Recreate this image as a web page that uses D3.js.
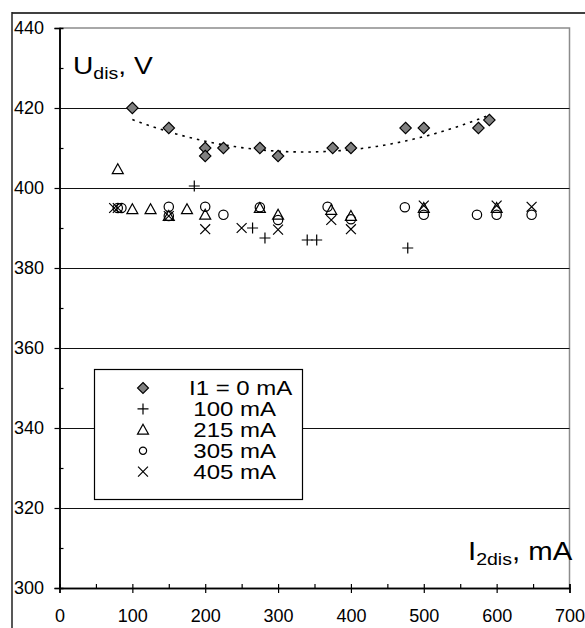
<!DOCTYPE html>
<html>
<head>
<meta charset="utf-8">
<script src="https://cdn.jsdelivr.net/npm/d3@7"></script>
<style>
  html, body { margin: 0; padding: 0; background: #fff; }
  svg { display: block; font-family: Arial, "Liberation Sans", sans-serif; }
</style>
</head>
<body>
<div id="chart"></div>
<script>
// Axis ticks
const xTicks = [0, 100, 200, 300, 400, 500, 600, 700];
const xMinorTicks = [50, 150, 250, 350, 450, 550, 650];
const yTicks = [300, 320, 340, 360, 380, 400, 420, 440];
const yMinorTicks = [310, 330, 350, 370, 390, 410, 430];
const gridValues = [320, 340, 360, 380, 400, 420];

// Series: [I2dis mA, Udis V]
const seriesI0 = [[100, 420], [150, 415], [200, 410], [200, 408], [225, 410], [275, 410], [300, 408],
  [375, 410], [400, 410], [475, 415], [500, 415], [575, 415], [590, 417]];
const series100 = [[185, 400.5], [265, 390], [282, 387.5], [340, 387], [353, 387], [478, 385]];
const series215 = [[80, 404.7], [100, 394.7], [125, 394.7], [150, 393], [175, 394.7], [200, 393.3],
  [275, 395], [300, 393.3], [373, 394.5], [400, 393], [500, 395], [600, 395]];
const series305 = [[80, 395], [85, 395], [150, 395.3], [150, 393], [200, 395.3], [225, 393.3],
  [275, 395.2], [300, 392], [368, 395.3], [400, 392.2], [474, 395.2], [500, 393.3], [573, 393.3],
  [600, 393.3], [648, 393.3]];
const series405 = [[75, 395], [80, 395], [150, 393], [200, 389.7], [250, 390], [300, 389.6],
  [373, 392], [400, 389.7], [500, 395.6], [600, 395.6], [648, 395.3]];

const legendLabels = ['I1 = 0 mA', '100 mA', '215 mA', '305 mA', '405 mA'];
const legendSymbols = ['diamond', 'plus', 'triangle', 'circle', 'cross'];

const W = 585, H = 628;
const plot = { left: 59.5, right: 569.5, top: 28, bottom: 588 };
const FONT = 'Arial, "Liberation Sans", sans-serif';

const svg = d3.select('#chart').append('svg')
  .attr('width', W).attr('height', H);

const x = d3.scaleLinear().domain([0, 700]).range([plot.left, plot.right]);
const y = d3.scaleLinear().domain([300, 440]).range([plot.bottom, plot.top]);

// text that is a little wider than the font, as in the source picture
function wideText(parent, px, py, sx) {
  return parent.append('g').attr('transform', `translate(${px},${py}) scale(${sx},1)`)
    .append('text').attr('fill', '#000');
}

// outer frame
svg.append('line').attr('x1', 12).attr('x2', W).attr('y1', 13).attr('y2', 13)
  .attr('stroke', '#404040').attr('stroke-width', 2);
svg.append('line').attr('x1', 12).attr('x2', 12).attr('y1', 12).attr('y2', H)
  .attr('stroke', '#202020').attr('stroke-width', 1.5);

// plot border (top/right, gray)
svg.append('path')
  .attr('d', `M${plot.left},${plot.top}H${plot.right}V${plot.bottom}`)
  .attr('fill', 'none').attr('stroke', '#8c8c8c').attr('stroke-width', 1.5);

// gridlines
svg.append('g').selectAll('line').data(gridValues).join('line')
  .attr('x1', plot.left).attr('x2', plot.right)
  .attr('y1', d => Math.round(y(d)) + 0.5).attr('y2', d => Math.round(y(d)) + 0.5)
  .attr('stroke', '#111').attr('stroke-width', 1);

// axes
const yAxis = svg.append('g').attr('transform', `translate(${plot.left},0)`)
  .call(d3.axisLeft(y).tickValues(yTicks).tickSize(5).tickPadding(10.5).tickFormat(d3.format('d')));
const yMinor = svg.append('g').attr('transform', `translate(${plot.left},0)`)
  .call(d3.axisRight(y).tickValues(yMinorTicks).tickSize(4).tickFormat(''));
const xAxis = svg.append('g').attr('transform', `translate(0,${plot.bottom})`)
  .call(d3.axisBottom(x).tickValues(xTicks).tickSize(5).tickPadding(16).tickFormat(d3.format('d')));
const xUp = svg.append('g').attr('transform', `translate(0,${plot.bottom})`)
  .call(d3.axisTop(x).tickValues(xTicks.concat(xMinorTicks)).tickSize(4).tickFormat(''));

[yAxis, yMinor, xAxis, xUp].forEach(g => {
  g.selectAll('path.domain').attr('stroke', '#000').attr('stroke-width', 1.5);
  g.selectAll('line').attr('stroke', '#000').attr('stroke-width', 1.2);
  g.selectAll('text').attr('fill', '#000').attr('font-size', '18px').attr('font-family', FONT);
});

// axis titles
const yTitle = wideText(svg, 73, 74, 1.15).attr('font-size', '24.5px');
yTitle.append('tspan').text('U');
yTitle.append('tspan').attr('font-size', '17px').attr('dy', 5).text('dis');
yTitle.append('tspan').attr('dy', -5).text(', V');

const xTitle = wideText(svg, 468, 560, 1.15).attr('font-size', '25.5px');
xTitle.append('tspan').text('I');
xTitle.append('tspan').attr('font-size', '17px').attr('dy', 5).text('2dis');
xTitle.append('tspan').attr('dy', -5).text(', mA');

// quadratic trendline fitted to the I1 = 0 series (least squares, like Excel)
function quadFit(pts) {
  let s = [0, 0, 0, 0, 0], t = [0, 0, 0];
  pts.forEach(([a, b]) => {
    for (let k = 0; k < 5; k++) s[k] += Math.pow(a, k);
    for (let k = 0; k < 3; k++) t[k] += b * Math.pow(a, k);
  });
  const M = [[s[0], s[1], s[2], t[0]], [s[1], s[2], s[3], t[1]], [s[2], s[3], s[4], t[2]]];
  for (let i = 0; i < 3; i++) {
    for (let j = i + 1; j < 3; j++) {
      const f = M[j][i] / M[i][i];
      for (let k = i; k < 4; k++) M[j][k] -= f * M[i][k];
    }
  }
  const c = [0, 0, 0];
  for (let i = 2; i >= 0; i--) {
    let v = M[i][3];
    for (let k = i + 1; k < 3; k++) v -= M[i][k] * c[k];
    c[i] = v / M[i][i];
  }
  return v => c[0] + c[1] * v + c[2] * v * v;
}
const fit = quadFit(seriesI0);
const [fx0, fx1] = d3.extent(seriesI0, d => d[0]);
const trendPts = d3.range(fx0, fx1 + 0.1, 5).map(v => [v, fit(v)]);
svg.append('path')
  .attr('d', d3.line().x(d => x(d[0])).y(d => y(d[1]))(trendPts))
  .attr('fill', 'none').attr('stroke', '#000').attr('stroke-width', 1.6)
  .attr('stroke-dasharray', '2.5,5');

// marker drawing
function marker(sel, type, size) {
  const r = size / 2;
  if (type === 'diamond') {
    sel.append('path').attr('d', `M0,${-r}L${r},0L0,${r}L${-r},0Z`)
      .attr('fill', '#808080').attr('stroke', '#000').attr('stroke-width', 1.1);
  } else if (type === 'plus') {
    sel.append('path').attr('d', `M${-r},0H${r}M0,${-r}V${r}`)
      .attr('fill', 'none').attr('stroke', '#000').attr('stroke-width', 1.2);
  } else if (type === 'triangle') {
    sel.append('path').attr('d', `M0,${-r}L${r},${r * 0.8}L${-r},${r * 0.8}Z`)
      .attr('fill', 'none').attr('stroke', '#000').attr('stroke-width', 1.2);
  } else if (type === 'circle') {
    sel.append('circle').attr('r', r * 0.85)
      .attr('fill', 'none').attr('stroke', '#000').attr('stroke-width', 1.2);
  } else if (type === 'cross') {
    const q = r * 0.9;
    sel.append('path').attr('d', `M${-q},${-q}L${q},${q}M${q},${-q}L${-q},${q}`)
      .attr('fill', 'none').attr('stroke', '#000').attr('stroke-width', 1.2);
  }
}

const allSeries = [
  { data: seriesI0, type: 'diamond', size: 11.5 },
  { data: series100, type: 'plus', size: 11 },
  { data: series215, type: 'triangle', size: 11 },
  { data: series305, type: 'circle', size: 11 },
  { data: series405, type: 'cross', size: 11 }
];
allSeries.slice(1).concat(allSeries.slice(0, 1)).forEach(s => {
  svg.append('g').selectAll('g').data(s.data).join('g')
    .attr('transform', d => `translate(${x(d[0])},${y(d[1])})`)
    .each(function () { marker(d3.select(this), s.type, s.size); });
});

// legend
const legend = svg.append('g');
legend.append('rect').attr('x', 94.5).attr('y', 369.5).attr('width', 208).attr('height', 130)
  .attr('fill', '#fff').attr('stroke', '#000').attr('stroke-width', 1.2);
const rowY = i => 388 + i * 20.9;
legendLabels.forEach((lab, i) => {
  const g = legend.append('g').attr('transform', `translate(143,${rowY(i)})`);
  marker(g, legendSymbols[i], legendSymbols[i] === 'circle' ? 8.5 : 11);
  wideText(legend, i === 0 ? 189 : 276, rowY(i), 1.2)
    .attr('dy', '0.35em')
    .attr('text-anchor', i === 0 ? 'start' : 'end')
    .attr('font-size', '20px')
    .text(lab);
});
</script>
</body>
</html>
